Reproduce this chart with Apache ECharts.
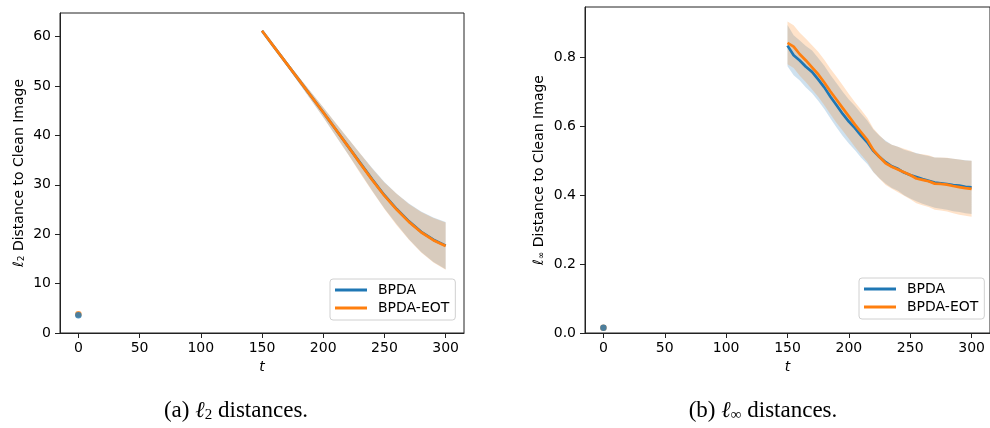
<!DOCTYPE html>
<html><head><meta charset="utf-8">
<script src="https://cdn.jsdelivr.net/npm/echarts@6/dist/echarts.min.js"></script>
<style>html,body{margin:0;padding:0;background:#fff}#c{width:990px;height:428px}</style>
</head><body><div id="c"></div>
<script>
// ---------- data ----------
const xTicks = [0, 50, 100, 150, 200, 250, 300];
const l2Ticks = [0, 10, 20, 30, 40, 50, 60];
const linfTicks = [0, 0.2, 0.4, 0.6, 0.8];
const seriesNames = ['BPDA', 'BPDA-EOT'];

// left panel: l2 distance (t = 150..300 step 10)
const tL = [150,160,170,180,190,200,210,220,230,240,250,260,270,280,290,300];
const l2BPDA    = [61.2,57.9,54.6,51.3,48.0,44.7,41.3,37.9,34.5,31.1,27.9,25.1,22.6,20.5,18.9,17.7];
const l2EOT     = [61.2,57.9,54.6,51.3,48.0,44.7,41.3,37.9,34.4,31.0,27.8,25.0,22.5,20.4,18.8,17.6];
const l2BPDAStd = [0.2,0.3,0.45,0.6,0.8,1.0,1.3,1.6,1.9,2.3,2.7,3.1,3.6,4.1,4.5,4.8];
const l2EOTStd  = [0.2,0.3,0.45,0.6,0.8,1.0,1.3,1.6,2.0,2.3,2.7,3.2,3.6,4.1,4.5,4.8];
const l2AtZero  = [3.6, 3.8];   // [BPDA, BPDA-EOT] at t = 0

// right panel: l_inf distance (t = 150..300 step 5)
const tR = [150,155,160,165,170,175,180,185,190,195,200,205,210,215,220,225,230,235,240,245,250,255,260,265,270,275,280,285,290,295,300];
const linfBPDA = [0.833,0.805,0.790,0.772,0.757,0.735,0.712,0.685,0.660,0.635,0.613,0.594,0.572,0.553,0.528,0.510,0.495,0.483,0.476,0.465,0.458,0.452,0.446,0.441,0.436,0.434,0.432,0.429,0.427,0.424,0.422];
const linfEOT  = [0.841,0.830,0.808,0.790,0.770,0.750,0.726,0.700,0.676,0.652,0.628,0.604,0.582,0.560,0.530,0.510,0.492,0.482,0.474,0.466,0.458,0.448,0.444,0.440,0.433,0.432,0.430,0.426,0.423,0.420,0.418];
const linfBPDAStd = [0.060,0.058,0.058,0.060,0.062,0.062,0.063,0.063,0.064,0.064,0.064,0.064,0.064,0.063,0.062,0.062,0.062,0.063,0.064,0.066,0.068,0.070,0.071,0.072,0.073,0.074,0.075,0.076,0.076,0.077,0.077];
const linfEOTStd  = [0.062,0.062,0.062,0.063,0.064,0.065,0.066,0.066,0.067,0.066,0.065,0.065,0.065,0.064,0.063,0.063,0.063,0.064,0.066,0.068,0.070,0.072,0.074,0.075,0.076,0.077,0.078,0.079,0.080,0.080,0.081];
const linfAtZero = [0.015, 0.015];

// ---------- styling ----------
const BLUE = '#1f77b4', ORANGE = '#ff7f0e';
const FONT = 'DejaVu Sans';
const AX = '#222';
const BAND_OP = 0.22;

function pairs(t, v) { return t.map((x, i) => [x, v[i]]); }

// shaded band mean±std, drawn as one polygon through the axis scales
function bandSeries(gi, id, t, mean, std, color) {
  const data = t.map((x, i) => [x, mean[i] - std[i], mean[i] + std[i]]);
  return {
    type: 'custom', name: '_band' + id, xAxisIndex: gi, yAxisIndex: gi, silent: true, z: 1,
    data: data, encode: { x: 0, y: [1, 2] },
    renderItem: function (params, api) {
      if (params.dataIndexInside !== 0) return null;
      const n = params.dataInsideLength;
      const top = [], bot = [];
      for (let i = 0; i < n; i++) {
        const x = api.value(0, i);
        bot.push(api.coord([x, api.value(1, i)]));
        top.push(api.coord([x, api.value(2, i)]));
      }
      const pts = bot.concat(top.reverse());
      return { type: 'polygon', shape: { points: pts },
        style: { fill: color, opacity: BAND_OP, stroke: null } };
    }
  };
}
function lineSeries(gi, name, t, mean, color) {
  return { type: 'line', name: name, xAxisIndex: gi, yAxisIndex: gi, data: pairs(t, mean),
    showSymbol: false, symbol: 'none', lineStyle: { color: color, width: 2.7 }, itemStyle: { color: color }, z: 3 };
}
function dotSeries(gi, name, y, color, z) {
  return { type: 'scatter', name: name, xAxisIndex: gi, yAxisIndex: gi, data: [[0, y]],
    symbolSize: 6.5, itemStyle: { color: color }, z: z };
}

function xAxis(gi) {
  return { type: 'value', gridIndex: gi, min: -15, max: 315,
    splitLine: { show: false },
    axisLine: { show: true, onZero: false, lineStyle: { color: AX, width: 1 } },
    axisTick: { show: true, length: 5, customValues: xTicks, lineStyle: { color: AX, width: 1 } },
    axisLabel: { customValues: xTicks, fontSize: 14, fontFamily: FONT, color: '#000', margin: 8 },
    name: 't', nameLocation: 'middle', nameGap: 26,
    nameTextStyle: { fontStyle: 'italic', fontSize: 14, fontFamily: FONT, color: '#000' } };
}
function yAxis(gi, min, max, ticks, sub, fmt, gap) {
  return { type: 'value', gridIndex: gi, min: min, max: max,
    splitLine: { show: false },
    axisLine: { show: true, onZero: false, lineStyle: { color: AX, width: 1 } },
    axisTick: { show: true, length: 5, customValues: ticks, lineStyle: { color: AX, width: 1 } },
    axisLabel: { customValues: ticks, fontSize: 14, fontFamily: FONT, color: '#000', margin: 9, formatter: fmt },
    name: '{i|ℓ}{s|' + sub + '} Distance to Clean Image', nameLocation: 'middle', nameRotate: 90, nameGap: gap,
    nameTextStyle: { fontSize: 14, fontFamily: FONT, color: '#000',
      rich: { i: { fontStyle: 'italic', fontSize: 14, fontFamily: FONT, color: '#000' },
              s: { fontSize: 9, fontFamily: FONT, color: '#000', verticalAlign: 'bottom', lineHeight: 12 } } } };
}
function legend(left, top) {
  return { show: true, orient: 'vertical', left: left, top: top,
    data: seriesNames.map(n => ({ name: n, icon: 'rect' })),
    itemWidth: 32, itemHeight: 3, itemGap: 4,
    padding: [4, 6, 5, 5],
    backgroundColor: 'rgba(255,255,255,0.8)', borderColor: '#d0d0d0', borderWidth: 1, borderRadius: 3,
    textStyle: { fontSize: 14, fontFamily: FONT, color: '#000', padding: [0, 0, 0, 6] },
    selectedMode: false };
}

const chart = echarts.init(document.getElementById('c'), null, { renderer: 'canvas' });
chart.setOption({
  animation: false,
  backgroundColor: '#fff',
  grid: [
    { left: 60, top: 13, width: 404, height: 320, show: true, borderColor: AX, borderWidth: 1 },
    { left: 585, top: 7, width: 410, height: 326, show: true, borderColor: AX, borderWidth: 1 }
  ],
  xAxis: [xAxis(0), xAxis(1)],
  yAxis: [
    yAxis(0, 0, 64.8, l2Ticks, '2', v => String(v), 34),
    yAxis(1, 0, 0.945, linfTicks, '∞', v => v.toFixed(1), 39)
  ],
  legend: [legend(330, 279), legend(859, 278)],
  series: [
    bandSeries(0, 'LB', tL, l2BPDA, l2BPDAStd, BLUE),
    bandSeries(0, 'LE', tL, l2EOT, l2EOTStd, ORANGE),
    lineSeries(0, 'BPDA', tL, l2BPDA, BLUE),
    lineSeries(0, 'BPDA-EOT', tL, l2EOT, ORANGE),
    dotSeries(0, 'BPDA-EOT t0', l2AtZero[1], ORANGE, 4),
    dotSeries(0, 'BPDA t0', l2AtZero[0], BLUE, 5),
    bandSeries(1, 'RB', tR, linfBPDA, linfBPDAStd, BLUE),
    bandSeries(1, 'RE', tR, linfEOT, linfEOTStd, ORANGE),
    lineSeries(1, 'BPDA', tR, linfBPDA, BLUE),
    lineSeries(1, 'BPDA-EOT', tR, linfEOT, ORANGE),
    dotSeries(1, 'BPDA-EOT t0', linfAtZero[1], ORANGE, 4),
    dotSeries(1, 'BPDA t0', linfAtZero[0], BLUE, 5)
  ],
  graphic: [
    { type: 'text', x: 236, y: 411, style: { text: '(a) {i|ℓ}{s|2} distances.', align: 'center', verticalAlign: 'middle',
        font: '23px "Liberation Serif"', fill: '#000',
        rich: { i: { fontStyle: 'italic', fontSize: 23, fontFamily: 'Liberation Serif' },
                s: { fontSize: 15, fontFamily: 'Liberation Serif', verticalAlign: 'bottom', lineHeight: 19 } } } },
    { type: 'text', x: 763, y: 411, style: { text: '(b) {i|ℓ}{s|∞} distances.', align: 'center', verticalAlign: 'middle',
        font: '23px "Liberation Serif"', fill: '#000',
        rich: { i: { fontStyle: 'italic', fontSize: 23, fontFamily: 'Liberation Serif' },
                s: { fontSize: 15, fontFamily: 'Liberation Serif', verticalAlign: 'bottom', lineHeight: 19 } } } }
  ]
});
</script></body></html>
